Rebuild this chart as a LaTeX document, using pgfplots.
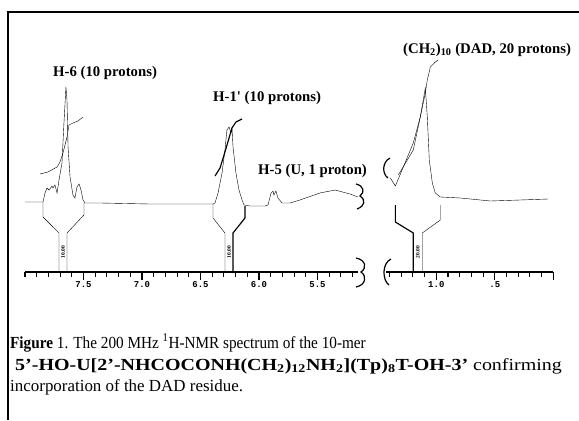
\documentclass[border=0pt]{standalone}
\usepackage{fontspec}
\setmainfont{Liberation Serif}
\setmonofont{Liberation Mono}
\usepackage{pgfplots}
\pgfplotsset{compat=1.18}
\begin{document}
\begin{tikzpicture}[x=1bp,y=1bp]
\useasboundingbox (0,0) rectangle (579,420);
\draw[line width=1.2bp] (8,0) -- (8,408) -- (579,408);
\pgfplotsset{nmr/.style={scale only axis, height=232bp, ymin=0, ymax=232,
  x dir=reverse, axis x line*=bottom, axis y line=none, clip=false,
  xtick align=outside, major tick length=8bp, minor tick length=4.5bp,
  tick style={black, line width=1.1bp}, axis line style={line width=1.3bp},
  xticklabel style={font=\ttfamily\bfseries\fontsize{9}{10}\selectfont, inner sep=1.5bp},
  cycle list={{black, solid, line width=1.15bp, mark=none}},
  anchor=south west}}
% left part
\begin{axis}[nmr, at={(25bp,148bp)}, width=333.45bp, xmin=5.15, xmax=8.0,
  xtick={7.5,7.0,6.5,6.0,5.5},
  xticklabels={\texttt{7.5},\texttt{7.0},\texttt{6.5},\texttt{6.0},\texttt{5.5}},
  minor xtick={8.0,7.9,7.8,7.7,7.6,7.4,7.3,7.2,7.1,6.9,6.8,6.7,6.6,6.4,6.3,6.2,6.1,5.9,5.8,5.7,5.6,5.4,5.3,5.2}]
\addplot coordinates {(8.000,70) (7.846,70) (7.829,79) (7.812,84) (7.795,82) (7.769,86) (7.761,84) (7.744,87) (7.726,79) (7.709,92) (7.684,109) (7.667,149) (7.650,185) (7.641,172) (7.632,125) (7.615,95) (7.590,77) (7.573,74) (7.556,85) (7.538,88) (7.521,82) (7.504,72) (7.487,69) (7.359,69) (6.932,68) (6.504,68) (6.393,68) (6.376,69) (6.350,79) (6.316,99) (6.291,122) (6.274,142) (6.256,145) (6.239,139) (6.231,144) (6.222,125) (6.197,99) (6.171,82) (6.145,72) (6.128,67) (6.077,66) (5.949,66) (5.923,67) (5.897,79) (5.880,81) (5.872,77) (5.855,81) (5.838,74) (5.803,69) (5.735,69) (5.650,72) (5.479,79) (5.350,82) (5.222,78) (5.154,75)};
% integrals
\addplot coordinates {(7.872,98) (7.803,100) (7.726,105) (7.701,110) (7.675,119) (7.641,135) (7.624,147) (7.590,149) (7.547,151) (7.504,155)};
\addplot coordinates {(6.376,96) (6.333,104) (6.291,120) (6.256,134) (6.231,144) (6.197,150) (6.145,153)};
% integral brackets
\addplot coordinates {(7.846,70) (7.846,55) (7.709,39) (7.709,0)};
\addplot coordinates {(7.496,69) (7.496,57) (7.641,39) (7.641,0)};
\addplot coordinates {(6.393,68) (6.393,54) (6.291,39) (6.291,0)};
\addplot coordinates {(6.120,66) (6.120,54) (6.222,39) (6.222,0)};
\node[rotate=90, font=\bfseries\fontsize{5.5}{5.5}\selectfont, inner sep=0pt] at (axis cs:7.675,20) {10.00};
\node[rotate=90, font=\bfseries\fontsize{5.5}{5.5}\selectfont, inner sep=0pt] at (axis cs:6.256,20) {10.00};
\end{axis}
% right part
\begin{axis}[nmr, at={(386bp,148bp)}, width=167.3bp, xmin=0, xmax=1.43,
  xtick={1.0,0.5,0},
  xticklabels={\texttt{1.0},\texttt{.5},{}},
  minor xtick={1.4,1.3,1.2,1.1,0.9,0.8,0.7,0.6,0.4,0.3,0.2,0.1}]
\addplot coordinates {(1.393,94) (1.350,86) (1.282,105) (1.197,129) (1.137,155) (1.094,184) (1.077,155) (1.060,112) (1.034,89) (1.009,79) (0.966,75) (0.795,74) (0.538,71) (0.282,72) (0.043,73)};
\addplot coordinates {(1.325,97) (1.248,112) (1.197,122) (1.137,155) (1.094,179) (1.077,192) (1.051,205) (1.009,210) (0.983,212)};
\addplot coordinates {(1.350,67) (1.350,50) (1.197,39) (1.197,0)};
\addplot coordinates {(0.966,67) (0.966,52) (1.120,39) (1.120,0)};
\node[rotate=90, font=\bfseries\fontsize{5.5}{5.5}\selectfont, inner sep=0pt] at (axis cs:1.158,20) {20.00};
\end{axis}
% break marks
\begin{scope}[line width=1.2bp]
\draw (356,162) .. controls (366,160) and (367,152) .. (361,148) .. controls (367,144) and (366,135) .. (356,133);
\draw (391,161) .. controls (382,157) and (382,140) .. (389,135);
\draw (356,236) .. controls (364,234) and (365,228) .. (360,224) .. controls (366,220) and (365,214) .. (357,211);
\draw (390,262) .. controls (382,258) and (382,246) .. (388,242);
\end{scope}
% peak labels
\begin{scope}[font=\bfseries\fontsize{14.8}{16}\selectfont, inner sep=0pt]
\node[anchor=base west] at (53,344) {H-6 (10 protons)};
\node[anchor=base west] at (213,319) {H-1\textquotesingle\ (10 protons)};
\node[anchor=base west] at (258,246) {H-5 (U, 1 proton)};
\node[anchor=base west] at (403,367) {(CH\textsubscript{2})\textsubscript{10} (DAD, 20 protons)};
\end{scope}
% caption
\begin{scope}[font=\fontsize{17}{20}\selectfont, inner sep=0pt]
\node[anchor=base west, xscale=0.9] at (10,72) {\textbf{Figure} 1. The 200 MHz \textsuperscript{1}H-NMR spectrum of the 10-mer};
\node[anchor=base west, xscale=1.18] at (15,50) {\textbf{5’-HO-U[2’-NHCOCONH(CH\textsubscript{2})\textsubscript{12}NH\textsubscript{2}](Tp)\textsubscript{8}T-OH-3’} confirming};
\node[anchor=base west] at (10,29) {incorporation of the DAD residue.};
\end{scope}
\end{tikzpicture}
\end{document}
